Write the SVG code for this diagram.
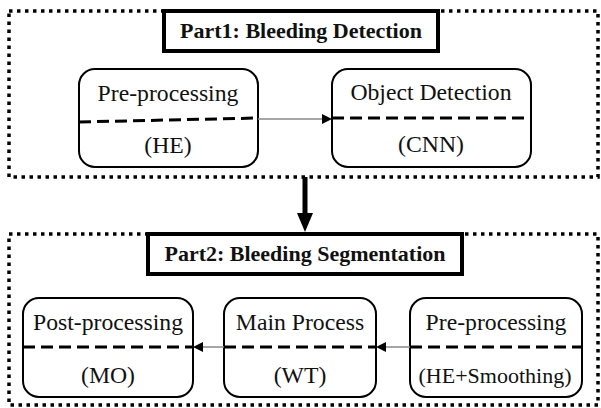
<svg xmlns="http://www.w3.org/2000/svg" width="601" height="408" viewBox="0 0 601 408">
<style>
.frame{fill:none;stroke:#000;stroke-width:3.5;stroke-dasharray:3.5 4.5}
.title{fill:#fff;stroke:#000;stroke-width:4}
.tt{font-weight:bold;font-size:22px;text-anchor:middle;fill:#111}
.node{fill:#fff;stroke:#000;stroke-width:2}
.div{stroke:#000;stroke-width:3;stroke-dasharray:12 6;fill:none}
.t{font-size:23.7px;text-anchor:middle;fill:#111}
.link{stroke:#888;stroke-width:1.5;fill:none}
</style>
<rect x="0" y="0" width="601" height="408" fill="#fff"/>
<g font-family="'Liberation Serif', 'DejaVu Serif', serif">
<g id="part1">
<rect class="frame" x="9" y="11" width="589" height="166"/>
<rect class="title" x="164" y="11" width="274" height="40"/>
<text class="tt" x="301" y="38">Part1: Bleeding Detection</text>
</g>
<g id="part2">
<rect class="frame" x="9" y="234" width="589" height="171"/>
<rect class="title" x="148" y="234" width="314" height="40"/>
<text class="tt" x="305" y="261">Part2: Bleeding Segmentation</text>
</g>
<g id="node-preprocessing1">
<rect class="node" x="79" y="69" width="179" height="98" rx="16"/>
<line class="div" x1="79" y1="122" x2="258" y2="118"/>
<text class="t" x="168" y="101">Pre-processing</text>
<text class="t" x="168" y="153">(HE)</text>
</g>
<g id="node-objectdetection">
<rect class="node" x="332" y="69" width="199" height="98" rx="16"/>
<line class="div" x1="332" y1="118" x2="531" y2="118"/>
<text class="t" x="431" y="100">Object Detection</text>
<text class="t" x="431" y="152">(CNN)</text>
</g>
<g id="node-postprocessing">
<rect class="node" x="23" y="298" width="170" height="99" rx="16"/>
<line class="div" x1="23" y1="347" x2="193" y2="347"/>
<text class="t" x="108" y="330">Post-processing</text>
<text class="t" x="108" y="383">(MO)</text>
</g>
<g id="node-mainprocess">
<rect class="node" x="224" y="298" width="152" height="99" rx="16"/>
<line class="div" x1="224" y1="347" x2="376" y2="347"/>
<text class="t" x="300" y="330">Main Process</text>
<text class="t" x="300" y="383">(WT)</text>
</g>
<g id="node-preprocessing2">
<rect class="node" x="410" y="298" width="172" height="99" rx="16"/>
<line class="div" x1="410" y1="347" x2="582" y2="347"/>
<text class="t" x="496" y="330">Pre-processing</text>
<text class="t" x="495" y="383" style="font-size:22px">(HE+Smoothing)</text>
</g>
</g>
<g id="connectors">
<line class="link" x1="258" y1="119" x2="323" y2="119"/>
<polygon points="322,114 332,119 322,124" fill="#000"/>
<line class="link" x1="410" y1="347" x2="385" y2="347"/>
<polygon points="386,342 376,347 386,352" fill="#000"/>
<line class="link" x1="224" y1="347" x2="202" y2="347"/>
<polygon points="203,342 193,347 203,352" fill="#000"/>
<rect x="302.5" y="177" width="5" height="37" fill="#000"/>
<polygon points="297,213 313,213 305,232" fill="#000"/>
</g>
</svg>
